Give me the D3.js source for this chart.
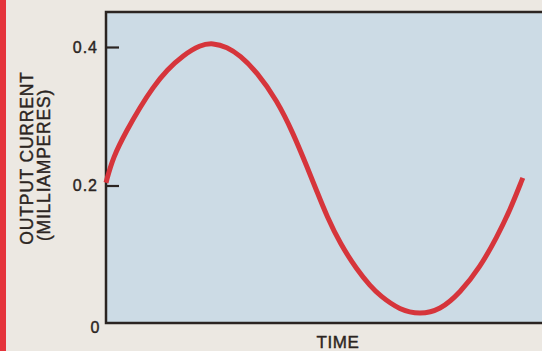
<!DOCTYPE html>
<html>
<head>
<meta charset="utf-8">
<script src="https://cdn.jsdelivr.net/npm/d3@7/dist/d3.min.js"></script>
<style>
  html, body { margin: 0; padding: 0; background: #ece8e2; }
  svg { display: block; }
  text { font-family: "Liberation Sans", Arial, sans-serif; fill: #2b2421; stroke: #2b2421; stroke-width: 0.4; }
</style>
</head>
<body>
<svg id="chart" width="542" height="351"></svg>
<script>
// Output current over one cycle (time in arbitrary units, current in mA)
const timePoints = [0, 1.6, 4.8, 7.8, 10.8, 14.0, 17.7, 21.6, 24.5, 27.8, 30.7, 34.6,
  39.2, 42.9, 46.1, 48.4, 50.7, 53.7, 57.6, 60.6, 62.8, 67.4, 72.0, 76.6, 81.2, 85.8,
  89.7, 92.7, 95.6];
const currentValues = [0.204, 0.241, 0.280, 0.313, 0.342, 0.367, 0.388, 0.403, 0.406,
  0.400, 0.388, 0.364, 0.323, 0.276, 0.227, 0.191, 0.155, 0.116, 0.078, 0.055, 0.041,
  0.020, 0.014, 0.020, 0.045, 0.082, 0.126, 0.165, 0.211];
const yTickValues = [0.2, 0.4];
const yTickLabels = ["0.2", "0.4"];
const zeroLabel = "0";
const yTitleLines = ["OUTPUT CURRENT", "(MILLIAMPERES)"];
const xTitle = "TIME";

const svg = d3.select("#chart");
const W = 542, H = 351;
const plot = { left: 106, top: 12, right: 560, bottom: 323 };

const x = d3.scaleLinear().domain([0, 100]).range([plot.left, 542]);
const y = d3.scaleLinear().domain([0, 0.4]).range([324, 47]);

// red edge strip
svg.append("rect").attr("x", 0).attr("y", 0).attr("width", 6).attr("height", H)
  .attr("fill", "#e5333b");

// plot panel
svg.append("rect")
  .attr("x", plot.left).attr("y", plot.top)
  .attr("width", plot.right - plot.left).attr("height", plot.bottom - plot.top)
  .attr("fill", "#ccdbe5")
  .attr("stroke", "#2b2421").attr("stroke-width", 2.5);

// y axis ticks pointing into the panel
const yAxis = d3.axisRight(y).tickValues(yTickValues).tickSize(13).tickFormat(() => "");
const gy = svg.append("g").attr("transform", `translate(${plot.left},0)`).call(yAxis);
gy.select(".domain").remove();
gy.selectAll(".tick line").attr("stroke", "#2b2421").attr("stroke-width", 2.2);

// tick labels on the outside
svg.append("g").selectAll("text").data(yTickValues).join("text")
  .attr("x", 98).attr("y", d => y(d)).attr("dy", "0.36em")
  .attr("text-anchor", "end").attr("font-size", 16).attr("letter-spacing", 1)
  .text((d, i) => yTickLabels[i]);
svg.append("text").attr("x", 95).attr("y", y(0) + 3).attr("dy", "0.36em")
  .attr("text-anchor", "middle").attr("font-size", 16).text(zeroLabel);

// current curve
const line = d3.line().x((d, i) => x(timePoints[i])).y(d => y(d))
  .curve(d3.curveBasis);
svg.append("path").datum(currentValues)
  .attr("d", line).attr("fill", "none")
  .attr("stroke", "#d6353b").attr("stroke-width", 5)
  .attr("stroke-linejoin", "round");

// axis titles
svg.append("text").attr("x", 338).attr("y", 348)
  .attr("text-anchor", "middle").attr("font-size", 17).attr("letter-spacing", 0.6)
  .text(xTitle);

const titleCenters = [158, 165];
const titleBase = [33, 50];
yTitleLines.forEach((t, i) => {
  svg.append("text")
    .attr("transform", `translate(${titleBase[i]},${titleCenters[i]}) rotate(-90)`)
    .attr("text-anchor", "middle").attr("font-size", 17.5).attr("letter-spacing", 0.8)
    .text(t);
});
</script>
</body>
</html>
